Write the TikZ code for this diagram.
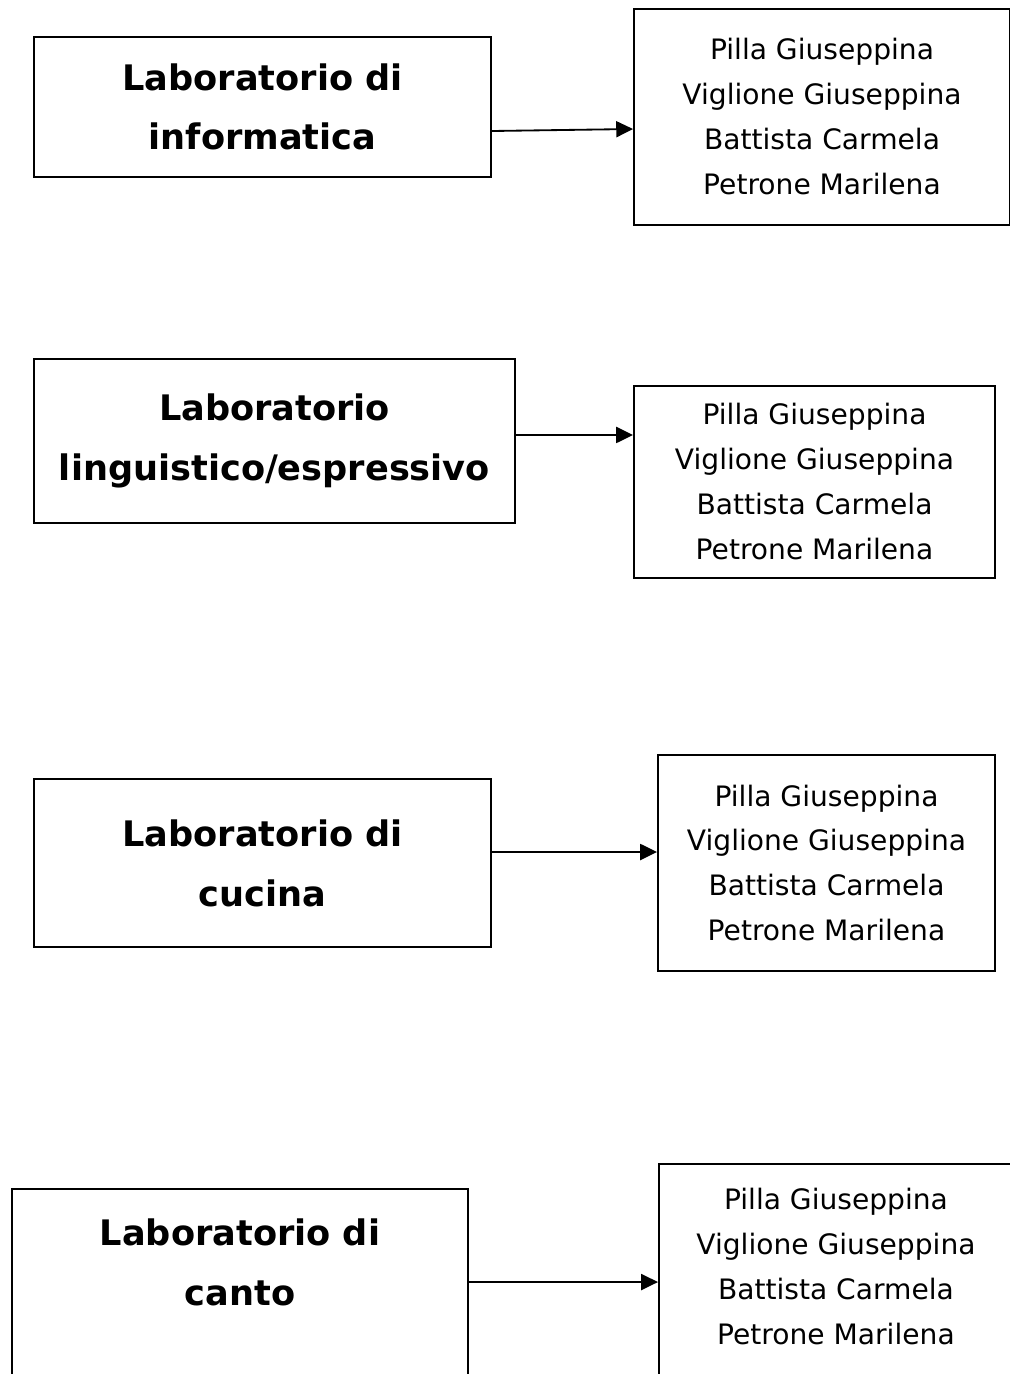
\documentclass[tikz,border=0pt]{standalone}
\usepackage{fontspec}
\setmainfont{DejaVu Sans}
\usetikzlibrary{arrows.meta}

\begin{document}
\begin{tikzpicture}[x=0.025cm, y=-0.025cm, line width=1.3pt, >={Triangle[length=0.42cm,width=0.4cm]},
lab/.style={draw, rectangle, align=center, font=\bfseries\fontsize{25}{42.5}\selectfont},
names/.style={draw, rectangle, align=center, font=\fontsize{20}{32}\selectfont}]
\useasboundingbox (0,0) rectangle (1009,1374);
\node[lab, minimum width=11.425cm, minimum height=3.5cm](info) at (262.5,107){Laboratorio di\\informatica};
\node[names, minimum width=9.4cm, minimum height=5.4cm](info2) at (822,117){Pilla Giuseppina\\Viglione Giuseppina\\Battista Carmela\\Petrone Marilena};
\node[lab, minimum width=12.025cm, minimum height=4.1cm](ling) at (274.5,441){Laboratorio\\linguistico/espressivo};
\node[names, minimum width=9.025cm, minimum height=4.8cm](ling2) at (814.5,482){Pilla Giuseppina\\Viglione Giuseppina\\Battista Carmela\\Petrone Marilena};
\node[lab, minimum width=11.425cm, minimum height=4.2cm](cuc) at (262.5,863){Laboratorio di\\cucina};
\node[names, minimum width=8.425cm, minimum height=5.4cm](cuc2) at (826.5,863){Pilla Giuseppina\\Viglione Giuseppina\\Battista Carmela\\Petrone Marilena};
\node[lab, anchor=north west, minimum width=11.4cm, inner ysep=0.75cm, text depth=4cm](canto) at (11,1188){Laboratorio di\\canto};
\node[names, anchor=north west, minimum width=8.85cm, inner ysep=0.6cm, text depth=4cm](canto2) at (658,1163){Pilla Giuseppina\\Viglione Giuseppina\\Battista Carmela\\Petrone Marilena};
\draw [->]([yshift=-0.6cm]info.east) -- ([yshift=-0.3cm]info2.west);
\draw [->]([yshift=0.15cm]ling.east) -- ([yshift=1.175cm]ling2.west);
\draw [->]([yshift=0.275cm]cuc.east) -- ([yshift=0.275cm]cuc2.west);
\draw [->]([yshift=-2.35cm]canto.north east) -- ([yshift=-2.975cm]canto2.north west);
\end{tikzpicture}
\end{document}
